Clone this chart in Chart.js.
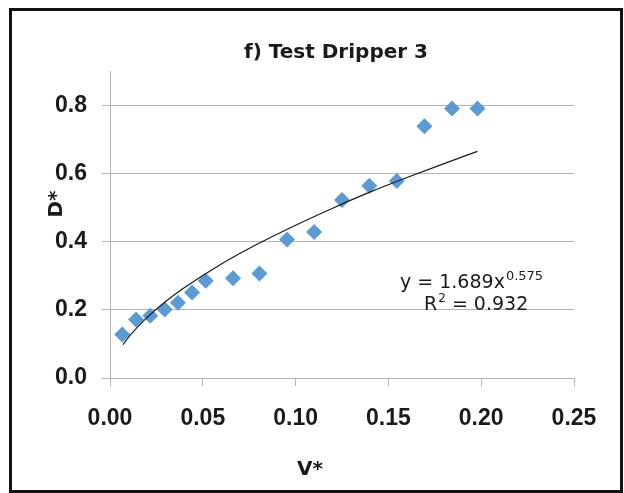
<!DOCTYPE html>
<html>
<head>
<meta charset="utf-8">
<script src="https://cdn.jsdelivr.net/npm/chart.js@4.4.1/dist/chart.umd.min.js"></script>
<style>
  html, body { margin: 0; padding: 0; background: #fff; }
  #wrap { position: relative; width: 624px; height: 493px; overflow: hidden; }
  #frame { position: absolute; left: 9px; top: 8px; width: 614px; height: 485px;
           border: 3px solid #111; box-sizing: border-box; pointer-events: none; }
  canvas { position: absolute; left: 0; top: 0; }
</style>
</head>
<body>
<div id="wrap">
  <canvas id="c" width="624" height="493"></canvas>
  <div id="frame"></div>
</div>
<script>
// ---- Data ----
const titleText = "f) Test Dripper 3";
const xTitle = "V*";
const yTitle = "D*";
const vStar = [0.0066, 0.0140, 0.0217, 0.0295, 0.0366, 0.0442, 0.0516, 0.0663, 0.0805,
               0.0954, 0.110, 0.125, 0.1397, 0.1545, 0.1694, 0.1843, 0.198];
const dStar = [0.128, 0.172, 0.183, 0.201, 0.221, 0.251, 0.286, 0.293, 0.307,
               0.407, 0.429, 0.523, 0.565, 0.579, 0.740, 0.792, 0.792];
// power trend line
const trendX = [0.007, 0.010, 0.020, 0.030, 0.040, 0.060, 0.080, 0.100, 0.120, 0.140, 0.160, 0.180, 0.198];
const trendY = [0.098, 0.120, 0.178, 0.225, 0.265, 0.335, 0.395, 0.449, 0.499, 0.546, 0.589, 0.630, 0.666];
const xTicks = [0, 0.05, 0.10, 0.15, 0.20, 0.25];
const yTicks = [0, 0.2, 0.4, 0.6, 0.8];
const eqMain = "y = 1.689x";
const eqExp = "0.575";
const r2Label = "R";
const r2Sup = "2";
const r2Value = " = 0.932";

const FONT = "'DejaVu Sans', sans-serif";
const TICKFONT = "'Liberation Sans', Arial, sans-serif";
const gridGray = '#b4b4b4';

const textPlugin = {
  id: 'textPlugin',
  afterDraw(chart) {
    const ctx = chart.ctx;
    ctx.save();
    ctx.fillStyle = '#1a1a1a';
    // chart title
    ctx.font = "bold 20px " + FONT;
    ctx.textAlign = 'center';
    ctx.textBaseline = 'middle';
    ctx.fillText(titleText, 336, 52.5);
    // axis titles
    ctx.fillText(xTitle, 310, 470);
    ctx.save();
    ctx.translate(57, 204);
    ctx.rotate(-Math.PI / 2);
    ctx.fillText(yTitle, 0, 0);
    ctx.restore();
    // trend line equation
    ctx.textAlign = 'left';
    ctx.textBaseline = 'alphabetic';
    ctx.font = "19px " + FONT;
    let x = 400;
    ctx.fillText(eqMain, x, 288);
    x += ctx.measureText(eqMain).width + 1;
    ctx.font = "13px " + FONT;
    ctx.fillText(eqExp, x, 280);
    x = 424;
    ctx.font = "19px " + FONT;
    ctx.fillText(r2Label, x, 310);
    x += ctx.measureText(r2Label).width + 1;
    ctx.font = "12px " + FONT;
    ctx.fillText(r2Sup, x, 302);
    x += ctx.measureText(r2Sup).width;
    ctx.font = "19px " + FONT;
    ctx.fillText(r2Value, x, 310);
    ctx.restore();
  }
};

new Chart(document.getElementById('c'), {
  data: {
    datasets: [
      {
        type: 'line',
        label: 'Power trend',
        data: trendX.map((v, i) => ({ x: v, y: trendY[i] })),
        borderColor: '#1a1a1a',
        borderWidth: 1.2,
        pointRadius: 0,
        cubicInterpolationMode: 'monotone',
        fill: false
      },
      {
        type: 'scatter',
        label: 'Test Dripper 3',
        data: vStar.map((v, i) => ({ x: v, y: dStar[i] })),
        pointStyle: 'rectRot',
        pointRadius: 8,
        pointHoverRadius: 8,
        backgroundColor: '#5b9bd5',
        borderColor: '#5b9bd5',
        borderWidth: 0
      }
    ]
  },
  options: {
    responsive: false,
    animation: false,
    devicePixelRatio: 1,
    layout: { padding: { left: 0, right: 50, top: 71.7, bottom: 0 } },
    plugins: {
      legend: { display: false },
      tooltip: { enabled: false },
      title: { display: false }
    },
    scales: {
      x: {
        type: 'linear',
        min: 0, max: 0.25,
        afterBuildTicks: s => { s.ticks = xTicks.map(v => ({ value: v })); },
        afterFit: s => { s.height = 115; },
        grid: { drawOnChartArea: false, drawTicks: true, tickLength: 8, color: gridGray },
        border: { display: true, color: gridGray, width: 1 },
        ticks: {
          padding: 19,
          color: '#1a1a1a',
          font: { family: TICKFONT, size: 23, weight: 'bold' },
          maxRotation: 0,
          callback: v => Number(v).toFixed(2)
        }
      },
      y: {
        type: 'linear',
        min: 0, max: 0.9,
        afterBuildTicks: s => { s.ticks = yTicks.map(v => ({ value: v })); },
        afterFit: s => { s.width = 110; },
        grid: { drawOnChartArea: true, drawTicks: true, tickLength: 8, color: gridGray },
        border: { display: true, color: gridGray, width: 1 },
        ticks: {
          padding: 15,
          color: '#1a1a1a',
          font: { family: TICKFONT, size: 23, weight: 'bold' },
          callback: v => Number(v).toFixed(1)
        }
      }
    }
  },
  plugins: [textPlugin]
});
</script>
</body>
</html>
